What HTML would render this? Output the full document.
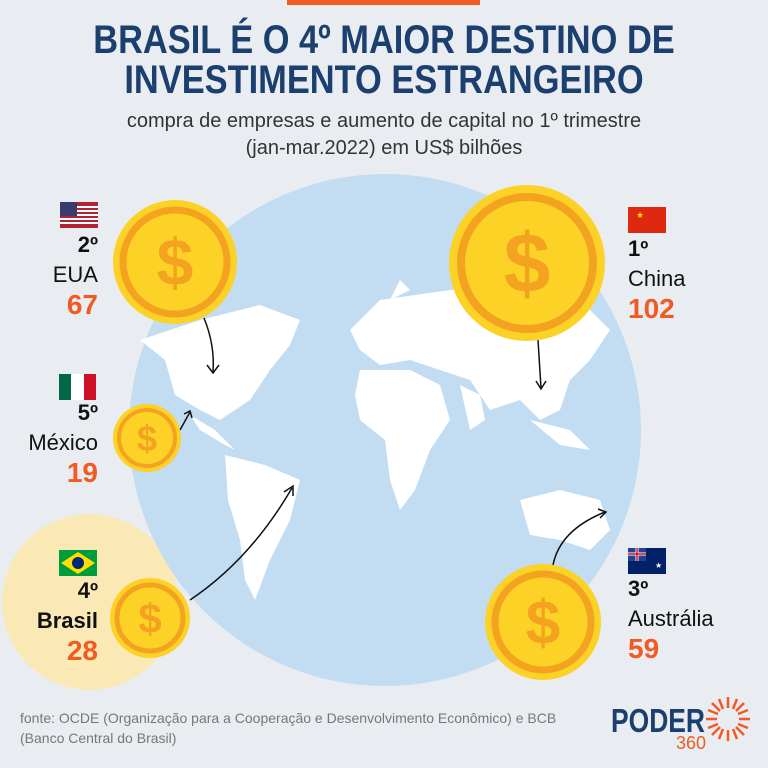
<!DOCTYPE html>
<html><head><meta charset="utf-8"><style>
body{margin:0;width:768px;height:768px;background:#e9edf1;font-family:"Liberation Sans",sans-serif;overflow:hidden;position:relative}
.t{position:absolute;left:0;width:768px;text-align:center}
.lab{position:absolute;text-align:right;font-size:22px;color:#111;line-height:30px}
.lab b{font-size:22px}
.v{color:#f15a22;font-weight:bold;font-size:28px}
</style></head><body>
<div style="position:absolute;left:287px;top:0;width:193px;height:5px;background:#f15a22"></div>
<div class="t" style="top:20px;font-weight:bold;font-size:40px;line-height:40px;color:#1b3f6e;transform:scaleX(0.86);transform-origin:384px 0">BRASIL É O 4º MAIOR DESTINO DE<br>INVESTIMENTO ESTRANGEIRO</div>
<div class="t" style="top:108px;font-size:20px;line-height:27px;color:#333">compra de empresas e aumento de capital no 1º trimestre<br>(jan-mar.2022) em US$ bilhões</div>
<svg width="768" height="768" style="position:absolute;left:0;top:0">
<circle cx="90" cy="602" r="88" fill="#fbe9b5"/>
<circle cx="385" cy="430" r="256" fill="#c2dcf2"/>
<g fill="#fff">
<path d="M140 340 L200 320 L260 305 L300 320 L290 345 L270 370 L250 400 L220 420 L200 410 L175 395 L165 360 Z"/>
<path d="M190 415 L215 430 L235 450 L225 445 L200 430 Z"/>
<path d="M225 455 L265 465 L300 480 L290 520 L270 560 L255 600 L245 580 L240 540 L228 500 Z"/>
<path d="M350 330 L380 300 L450 290 L520 290 L580 300 L610 330 L590 360 L570 380 L560 410 L540 420 L520 400 L490 410 L470 380 L440 370 L410 360 L380 365 L360 350 Z"/>
<path d="M360 370 L410 370 L440 385 L450 420 L430 450 L415 490 L400 510 L390 480 L385 440 L360 420 L355 395 Z"/>
<path d="M460 385 L480 395 L485 420 L470 430 Z"/>
<path d="M530 420 L570 430 L590 450 L560 445 Z"/>
<path d="M520 500 L560 490 L600 500 L610 530 L590 550 L560 540 L530 535 Z"/>
<path d="M390 300 L410 290 L400 280 Z"/>
</g>
<g fill="none" stroke="#111" stroke-width="1.5">
<path d="M204 318 Q215 345 213 372"/><path d="M207 365 L213 373 L219 365"/>
<path d="M180 430 L190 412"/><path d="M184 414 L190 411 L192 418"/>
<path d="M190 600 Q250 560 292 488"/><path d="M284 492 L293 486 L293 496"/>
<path d="M538 340 L541 388"/><path d="M536 381 L541 389 L546 381"/>
<path d="M553 565 Q560 530 605 512"/><path d="M598 509 L606 512 L600 518"/>
</g>
<g font-family="Liberation Sans Narrow,Liberation Sans">
<circle cx="175" cy="262" r="62" fill="#fcd226"/><circle cx="175" cy="262" r="52" fill="none" stroke="#f4a321" stroke-width="7"/>
<text x="175" y="285" font-size="66" font-weight="bold" fill="#f4a321" text-anchor="middle">$</text>
<circle cx="527" cy="263" r="78" fill="#fcd226"/><circle cx="527" cy="263" r="66" fill="none" stroke="#f4a321" stroke-width="8"/>
<text x="527" y="292" font-size="84" font-weight="bold" fill="#f4a321" text-anchor="middle">$</text>
<circle cx="147" cy="438" r="34" fill="#fcd226"/><circle cx="147" cy="438" r="28" fill="none" stroke="#f4a321" stroke-width="4"/>
<text x="147" y="451" font-size="36" font-weight="bold" fill="#f4a321" text-anchor="middle">$</text>
<circle cx="150" cy="618" r="40" fill="#fcd226"/><circle cx="150" cy="618" r="33" fill="none" stroke="#f4a321" stroke-width="5"/>
<text x="150" y="633" font-size="42" font-weight="bold" fill="#f4a321" text-anchor="middle">$</text>
<circle cx="543" cy="622" r="58" fill="#fcd226"/><circle cx="543" cy="622" r="48" fill="none" stroke="#f4a321" stroke-width="7"/>
<text x="543" y="644" font-size="62" font-weight="bold" fill="#f4a321" text-anchor="middle">$</text>
</g>
<rect x="60" y="202" width="38" height="26" fill="#b22234"/>
<g fill="#fff"><rect x="60" y="206" width="38" height="2"/><rect x="60" y="210" width="38" height="2"/><rect x="60" y="214" width="38" height="2"/><rect x="60" y="218" width="38" height="2"/><rect x="60" y="222" width="38" height="2"/></g>
<rect x="60" y="202" width="17" height="14" fill="#3c3b6e"/>
<rect x="59" y="374" width="12" height="26" fill="#006847"/><rect x="71" y="374" width="13" height="26" fill="#fff"/><rect x="84" y="374" width="12" height="26" fill="#ce1126"/>
<rect x="59" y="550" width="38" height="26" fill="#009c3b"/><polygon points="78,552 95,563 78,574 61,563" fill="#ffdf00"/><circle cx="78" cy="563" r="6" fill="#002776"/>
<rect x="628" y="207" width="38" height="26" fill="#de2910"/><text x="636" y="218" font-size="9" fill="#ffde00">★</text>
<rect x="628" y="548" width="38" height="26" fill="#012169"/><rect x="628" y="548" width="18" height="13" fill="#25408f"/><path d="M628 554 H646 M637 548 V561" stroke="#fff" stroke-width="3"/><path d="M628 554 H646 M637 548 V561" stroke="#c8102e" stroke-width="1.5"/>
<text x="655" y="568" font-size="8" fill="#fff">★</text>
<text x="611" y="732" font-family="Liberation Sans" font-weight="bold" font-size="33" fill="#1b3f6e" textLength="94" lengthAdjust="spacingAndGlyphs">PODER</text>
<text x="676" y="749" font-family="Liberation Sans" font-size="18" fill="#f15a22">360</text>
<g stroke="#f15a22" stroke-width="2.5">
<path d="M728 697V708M728 730V741M706 719H717M739 719H750M712 703L720 711M736 727L744 735M744 703L736 711M720 727L712 735M719 699L723 709M733 729L737 739M737 699L733 709M723 729L719 739M708 710L718 714M738 724L748 728M748 710L738 714M718 724L708 728"/>
</g>
</svg>
<div class="lab" style="left:0;width:98px;top:230px"><b>2º</b><br>EUA<br><span class="v">67</span></div>
<div class="lab" style="left:0;width:98px;top:398px"><b>5º</b><br>México<br><span class="v">19</span></div>
<div class="lab" style="left:0;width:98px;top:576px"><b>4º<br>Brasil</b><br><span class="v">28</span></div>
<div class="lab" style="left:628px;width:120px;top:234px;text-align:left"><b>1º</b><br>China<br><span class="v">102</span></div>
<div class="lab" style="left:628px;width:120px;top:574px;text-align:left"><b>3º</b><br>Austrália<br><span class="v">59</span></div>
<div style="position:absolute;left:20px;top:708px;font-size:14px;line-height:20px;color:#777;width:560px">fonte: OCDE (Organização para a Cooperação e Desenvolvimento Econômico) e BCB (Banco Central do Brasil)</div>
</body></html>
